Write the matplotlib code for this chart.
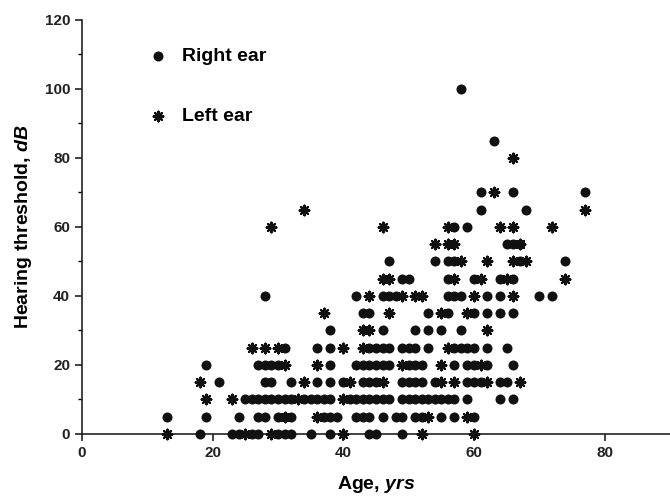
import matplotlib
matplotlib.use("Agg")
import matplotlib.pyplot as plt
from matplotlib.ticker import MultipleLocator

plt.rcParams['font.family'] = ['Liberation Sans', 'DejaVu Sans']
plt.rcParams['font.weight'] = 'bold'
plt.rcParams['axes.labelweight'] = 'bold'
plt.rcParams['mathtext.fontset'] = 'custom'
plt.rcParams['mathtext.it'] = 'Liberation Sans:italic:bold'
plt.rcParams['mathtext.rm'] = 'Liberation Sans:bold'

# hearing threshold (dB) -> ages (yrs)
right_ear = {
    0: [18, 23, 24, 26, 27, 30, 31, 32, 35, 38, 44, 45, 49],
    5: [13, 19, 24, 27, 28, 30, 31, 32, 37, 38, 39, 42, 43, 44, 46, 48, 49,
        51, 52, 55, 57, 60],
    10: [25, 26, 27, 28, 29, 30, 31, 32, 34, 35, 36, 37, 38, 41, 42, 43, 44,
         45, 46, 47, 49, 50, 51, 52, 53, 54, 55, 56, 57, 59, 64, 66],
    15: [21, 28, 29, 32, 36, 38, 40, 43, 44, 45, 49, 50, 51, 52, 54, 59, 60,
         61, 64, 65],
    20: [19, 27, 28, 29, 30, 38, 42, 43, 44, 45, 46, 47, 50, 51, 52, 57, 59,
         60, 62, 66],
    25: [31, 36, 38, 44, 45, 46, 47, 49, 50, 51, 53, 57, 58, 59, 60, 62, 65],
    30: [38, 46, 51, 53, 55, 58],
    35: [43, 44, 53, 56, 60, 62, 64, 66],
    40: [28, 42, 46, 47, 48, 56, 57, 58, 62, 64, 70, 72],
    45: [49, 50, 56, 60, 64, 66],
    50: [47, 54, 56, 57, 67, 74],
    55: [65, 66, 67],
    60: [57, 59],
    65: [61, 68],
    70: [61, 66, 77],
    85: [63],
    100: [58],
}

left_ear = {
    0: [13, 25, 29, 40, 52, 60],
    5: [31, 36, 53, 59],
    10: [19, 23, 33, 40],
    15: [18, 34, 41, 46, 55, 57, 62, 67],
    20: [31, 36, 49, 55, 61],
    25: [26, 28, 30, 40, 43, 56],
    30: [43, 44, 62],
    35: [37, 47, 55, 59],
    40: [44, 49, 51, 52, 60, 66],
    45: [46, 47, 57, 61, 65, 74],
    50: [58, 62, 66, 68],
    55: [54, 56, 57, 67],
    60: [29, 46, 56, 64, 66, 72],
    65: [34, 77],
    70: [63],
    80: [66],
}


def flatten(d):
    xs, ys = [], []
    for db, ages in d.items():
        xs += ages
        ys += [db] * len(ages)
    return xs, ys


rx, ry = flatten(right_ear)
lx, ly = flatten(left_ear)

fig = plt.figure(figsize=(6.7, 4.97), dpi=100)
ax = fig.add_axes([0.1224, 0.1268, 0.8776, 0.8332])

ax.scatter(rx, ry, s=52, marker='o', color='#111111', linewidths=0,
           clip_on=False, zorder=3, label='Right ear')
ax.scatter(lx, ly, s=48, marker=(8, 2, 0), color='#111111', linewidths=1.6,
           clip_on=False, zorder=3, label='Left ear')

ax.set_xlim(0, 90)
ax.set_ylim(0, 120)
ax.xaxis.set_major_locator(MultipleLocator(20))
ax.yaxis.set_major_locator(MultipleLocator(20))
ax.yaxis.set_minor_locator(MultipleLocator(10))

for s in ['top', 'right']:
    ax.spines[s].set_visible(False)
for s in ['left', 'bottom']:
    ax.spines[s].set_linewidth(1.2)
    ax.spines[s].set_color('#222222')

ax.tick_params(axis='both', which='major', length=5, width=1.2,
               labelsize=11, colors='#222222')
ax.tick_params(axis='y', which='minor', length=3, width=1)

ax.set_xlabel(r'Age, $\mathit{yrs}$', fontsize=14, labelpad=10)
ax.set_ylabel(r'Hearing threshold, $\mathit{dB}$', fontsize=14, labelpad=8)

ax.legend(loc='upper left', bbox_to_anchor=(0.066, 0.975), frameon=False,
          fontsize=14, labelspacing=2.15, handletextpad=0.25, markerscale=1.0)

fig.savefig('out.png', dpi=100)
